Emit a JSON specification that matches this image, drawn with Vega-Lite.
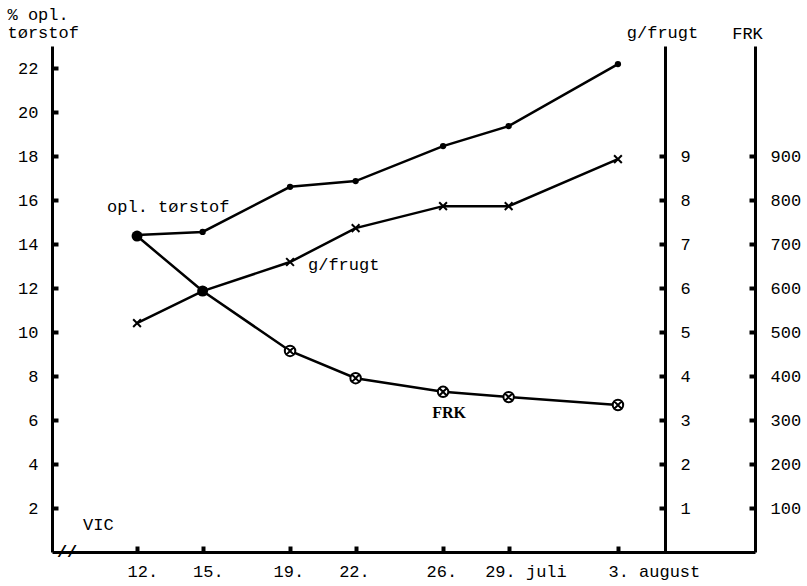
{
  "$schema": "https://vega.github.io/schema/vega-lite/v6.json",
  "width": 703,
  "height": 506,
  "autosize": {"type": "none"},
  "padding": {"left": 52, "top": 46, "right": 52, "bottom": 34},
  "background": "white",
  "config": {
    "view": {"stroke": null},
    "axis": {
      "grid": false,
      "domainColor": "black",
      "domainWidth": 3,
      "tickColor": "black",
      "tickWidth": 4,
      "tickSize": -6,
      "labelColor": "black",
      "labelFont": "Liberation Mono",
      "labelFontSize": 17,
      "titleFont": "Liberation Mono",
      "titleFontSize": 17,
      "titleFontWeight": "normal",
      "titleColor": "black"
    }
  },
  "data": {
    "values": [
      {"dag": 12, "torstof": 14.41, "gfrugt": 5.2, "frk": 718},
      {"dag": 15, "torstof": 14.55, "gfrugt": 5.93, "frk": 593},
      {"dag": 19, "torstof": 16.6, "gfrugt": 6.59, "frk": 457},
      {"dag": 22, "torstof": 16.86, "gfrugt": 7.36, "frk": 395},
      {"dag": 26, "torstof": 18.45, "gfrugt": 7.86, "frk": 364},
      {"dag": 29, "torstof": 19.36, "gfrugt": 7.86, "frk": 352},
      {"dag": 34, "torstof": 22.18, "gfrugt": 8.93, "frk": 334}
    ]
  },
  "layer": [
    {
      "layer": [
        {
          "mark": {"type": "line", "color": "black", "strokeWidth": 2.5},
          "encoding": {
            "x": {
              "field": "dag",
              "type": "quantitative",
              "scale": {"domain": [8.11, 40.27], "nice": false, "zero": false},
              "axis": {
                "orient": "bottom",
                "values": [12, 15, 19, 22, 26, 29, 34],
                "labelExpr": "datum.value == 29 ? '29. juli' : datum.value == 34 ? '3. august' : datum.value + '.'",
                "title": null,
                "labelAlign": "left",
                "labelBaseline": "alphabetic",
                "labelPadding": 30,
                "labelOffset": {
                  "condition": [
                    {"test": "datum.value == 29", "value": -24},
                    {"test": "datum.value < 16 || datum.value == 34", "value": -10}
                  ],
                  "value": -17
                },
                "labelFlush": false,
                "labelOverlap": false
              }
            },
            "y": {
              "field": "torstof",
              "type": "quantitative",
              "scale": {"domain": [0, 23], "nice": false},
              "axis": {
                "orient": "left",
                "values": [2, 4, 6, 8, 10, 12, 14, 16, 18, 20, 22],
                "labelPadding": 20,
                "title": ["% opl.", "tørstof"],
                "titleAngle": 0,
                "titleAlign": "left",
                "titleBaseline": "alphabetic",
                "titleX": -45,
                "titleY": -27,
                "titleLineHeight": 18
              }
            }
          }
        },
        {
          "mark": {"type": "point", "shape": "circle", "filled": true, "color": "black", "size": 40, "opacity": 1},
          "encoding": {
            "x": {"field": "dag", "type": "quantitative"},
            "y": {"field": "torstof", "type": "quantitative"}
          }
        },
        {
          "data": {"values": [{"label": "opl. tørstof"}]},
          "mark": {"type": "text", "font": "Liberation Mono", "fontSize": 17, "align": "left", "baseline": "alphabetic", "color": "black"},
          "encoding": {
            "x": {"datum": 10.63, "type": "quantitative"},
            "y": {"datum": 15.45, "type": "quantitative"},
            "text": {"field": "label"}
          }
        },
        {
          "data": {"values": [{"label": "g/frugt"}]},
          "mark": {"type": "text", "font": "Liberation Mono", "fontSize": 17, "align": "left", "baseline": "alphabetic", "color": "black"},
          "encoding": {
            "x": {"datum": 19.82, "type": "quantitative"},
            "y": {"datum": 12.82, "type": "quantitative"},
            "text": {"field": "label"}
          }
        },
        {
          "data": {"values": [{"label": "FRK"}]},
          "mark": {"type": "text", "font": "Liberation Serif", "fontSize": 16, "fontWeight": "bold", "align": "left", "baseline": "alphabetic", "color": "black"},
          "encoding": {
            "x": {"datum": 25.5, "type": "quantitative"},
            "y": {"datum": 6.09, "type": "quantitative"},
            "text": {"field": "label"}
          }
        },
        {
          "data": {"values": [{"label": "VIC"}]},
          "mark": {"type": "text", "font": "Liberation Mono", "fontSize": 17, "align": "left", "baseline": "alphabetic", "color": "black"},
          "encoding": {
            "x": {"datum": 9.53, "type": "quantitative"},
            "y": {"datum": 1.0, "type": "quantitative"},
            "text": {"field": "label"}
          }
        },
        {
          "data": {"values": [{"label": "//"}]},
          "mark": {"type": "text", "font": "Liberation Mono", "fontSize": 17, "fontWeight": "bold", "align": "center", "baseline": "middle", "color": "black"},
          "encoding": {
            "x": {"datum": 8.8, "type": "quantitative"},
            "y": {"datum": 0, "type": "quantitative"},
            "text": {"field": "label"}
          }
        }
      ]
    },
    {
      "layer": [
        {
          "mark": {"type": "line", "color": "black", "strokeWidth": 2.5},
          "encoding": {
            "x": {"field": "dag", "type": "quantitative"},
            "y": {
              "field": "gfrugt",
              "type": "quantitative",
              "scale": {"domain": [0, 11.5], "nice": false},
              "axis": {
                "orient": "right",
                "offset": -90,
                "values": [1, 2, 3, 4, 5, 6, 7, 8, 9],
                "labelPadding": 21,
                "title": "g/frugt",
                "titleAngle": 0,
                "titleAlign": "center",
                "titleBaseline": "alphabetic",
                "titleX": -3,
                "titleY": -9
              }
            }
          }
        },
        {
          "mark": {"type": "point", "shape": "M-1,-1L1,1M-1,1L1,-1", "filled": false, "color": "black", "strokeWidth": 2, "size": 60, "opacity": 1},
          "encoding": {
            "x": {"field": "dag", "type": "quantitative"},
            "y": {"field": "gfrugt", "type": "quantitative"}
          }
        }
      ]
    },
    {
      "layer": [
        {
          "mark": {"type": "line", "color": "black", "strokeWidth": 2.5},
          "encoding": {
            "x": {"field": "dag", "type": "quantitative"},
            "y": {
              "field": "frk",
              "type": "quantitative",
              "scale": {"domain": [0, 1150], "nice": false},
              "axis": {
                "orient": "right",
                "offset": 0,
                "values": [100, 200, 300, 400, 500, 600, 700, 800, 900],
                "labelPadding": 21,
                "title": "FRK",
                "titleAngle": 0,
                "titleAlign": "center",
                "titleBaseline": "alphabetic",
                "titleX": -8,
                "titleY": -8
              }
            }
          }
        },
        {
          "transform": [{"filter": "datum.dag > 15"}],
          "mark": {"type": "point", "shape": "M1,0A1,1,0,1,1,-1,0A1,1,0,1,1,1,0Z M-0.7,-0.7L0.7,0.7 M-0.7,0.7L0.7,-0.7", "filled": false, "fill": "white", "fillOpacity": 1, "stroke": "black", "strokeWidth": 2, "size": 110, "opacity": 1},
          "encoding": {
            "x": {"field": "dag", "type": "quantitative"},
            "y": {"field": "frk", "type": "quantitative"}
          }
        },
        {
          "transform": [{"filter": "datum.dag <= 15"}],
          "mark": {"type": "point", "shape": "circle", "filled": true, "color": "black", "size": 120, "opacity": 1},
          "encoding": {
            "x": {"field": "dag", "type": "quantitative"},
            "y": {"field": "frk", "type": "quantitative"}
          }
        }
      ]
    }
  ],
  "resolve": {"scale": {"y": "independent"}}
}
